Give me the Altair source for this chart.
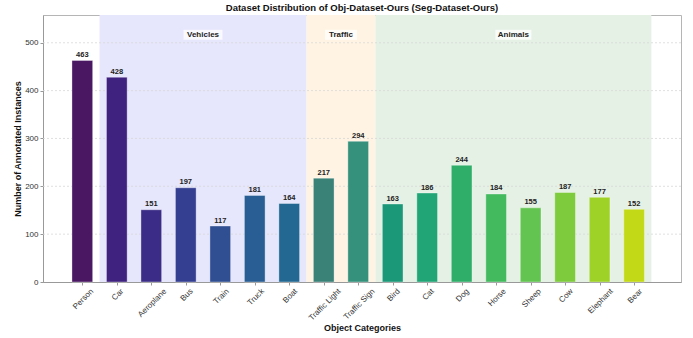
import altair as alt
import pandas as pd

categories = ["Person", "Car", "Aeroplane", "Bus", "Train", "Truck", "Boat",
              "Traffic Light", "Traffic Sign", "Bird", "Cat", "Dog", "Horse",
              "Sheep", "Cow", "Elephant", "Bear"]
counts = [463, 428, 151, 197, 117, 181, 164, 217, 294, 163, 186, 244, 184, 155, 187, 177, 152]
bar_colors = ["#4a1763", "#3f2180", "#3b2d87", "#343f91", "#2f4f92", "#295e95", "#226893",
              "#3a8178", "#36917c", "#1b9878", "#21a576", "#2fae6a", "#44ba5f", "#63c452",
              "#7ecb3d", "#9ed227", "#c2d918"]

group_names = ["Vehicles", "Traffic", "Animals"]
group_start = [0.5, 6.5, 8.5]
group_end = [6.5, 8.5, 16.5]
group_colors = ["#e6e6fc", "#fff4e3", "#e5f1e5"]
group_box = ["M-3.9,-1H3.9V1H-3.9Z", "M-3.2,-1H3.2V1H-3.2Z", "M-3.6,-1H3.6V1H-3.6Z"]

y_ticks = [0, 100, 200, 300, 400, 500]
y_max = 558
x_min, x_max = -1.14, 17.36

FONT = "Liberation Sans"
LABEL_SIZE = 8

# Arial / Liberation Sans advance widths (per 1000 em) to centre rotated labels on ticks
_W = {"P": 667, "C": 722, "A": 667, "B": 667, "T": 611, "S": 667, "H": 722, "D": 722,
      "E": 667, "L": 556, "a": 556, "b": 556, "c": 500, "d": 556, "e": 556, "f": 278,
      "g": 556, "h": 556, "i": 222, "k": 500, "l": 222, "m": 833, "n": 556, "o": 556,
      "p": 556, "r": 333, "s": 500, "t": 278, "u": 556, "w": 722, "y": 500, " ": 278}


def text_w(s):
    return sum(_W.get(ch, 556) for ch in s) / 1000 * LABEL_SIZE


label_shift = {"condition": [{"test": f"datum.value === {i}",
                              "value": round(0.354 * (text_w(c) - LABEL_SIZE * 0.75), 1)}
                             for i, c in enumerate(categories)],
               "value": 0}

bars_df = pd.DataFrame({"idx": list(range(len(categories))), "cat": categories,
                        "count": counts, "color": bar_colors})
bars_df["x0"] = bars_df["idx"] - 0.3
bars_df["x1"] = bars_df["idx"] + 0.3
groups_df = pd.DataFrame({"name": group_names, "start": group_start, "end": group_end,
                          "color": group_colors, "box": group_box})
groups_df["mid"] = (groups_df["start"] + groups_df["end"]) / 2
groups_df["ly"] = y_max * 0.926
grid_df = pd.DataFrame({"v": y_ticks[1:]})

label_expr = "[" + ",".join("'" + c + "'" for c in categories) + "][datum.value]"

xscale = alt.Scale(domain=[x_min, x_max], nice=False, zero=False)
yscale = alt.Scale(domain=[0, y_max], nice=False)

x_axis = alt.Axis(values=list(range(len(categories))), labelExpr=label_expr,
                  labelAngle=-45, labelAlign="right", labelBaseline="top",
                  labelOffset=label_shift, labelPadding=2, tickSize=3, grid=False,
                  labelOverlap=False, labelBound=False, labelFlush=False,
                  title="Object Categories", titleFontWeight="bold",
                  titleFontSize=9, titlePadding=2)
y_axis = alt.Axis(values=y_ticks, grid=False, tickSize=3, labelPadding=2,
                  title="Number of Annotated Instances", titleFontWeight="bold",
                  titleFontSize=9, titlePadding=2)

spans = alt.Chart(groups_df).mark_rect().encode(
    x=alt.X("start:Q", scale=xscale, axis=x_axis),
    x2="end:Q",
    color=alt.Color("color:N", scale=None),
)

grid = alt.Chart(grid_df).mark_rule(color="#d8d8d8", strokeDash=[2, 2], strokeWidth=0.8).encode(
    y=alt.Y("v:Q", scale=yscale, axis=y_axis)
)

bars = alt.Chart(bars_df).mark_rect(stroke="white", strokeOpacity=0.5, strokeWidth=0.7).encode(
    x=alt.X("x0:Q", scale=xscale, axis=x_axis),
    x2="x1:Q",
    y=alt.Y("count:Q", scale=yscale, axis=y_axis),
    y2=alt.datum(0),
    color=alt.Color("color:N", scale=None),
)

values = alt.Chart(bars_df).mark_text(fontWeight="bold", fontSize=7.5, baseline="alphabetic",
                                      dy=-3.5, color="#222", font=FONT).encode(
    x=alt.X("idx:Q", scale=xscale, axis=x_axis),
    y=alt.Y("count:Q", scale=yscale, axis=y_axis),
    text="count:Q",
)

boxes = alt.Chart(groups_df).mark_point(filled=True, fill="white", opacity=0.75, size=100,
                                        strokeWidth=0).encode(
    x=alt.X("mid:Q", scale=xscale, axis=x_axis),
    y=alt.Y("ly:Q", scale=yscale, axis=y_axis),
    shape=alt.Shape("box:N", scale=None),
)

glabels = alt.Chart(groups_df).mark_text(fontWeight="bold", fontSize=8, baseline="middle",
                                         color="#222", font=FONT).encode(
    x=alt.X("mid:Q", scale=xscale, axis=x_axis),
    y=alt.Y("ly:Q", scale=yscale, axis=y_axis),
    text="name:N",
)

chart = alt.layer(spans, grid, bars, values, boxes, glabels).properties(
    width=638, height=267,
    autosize=alt.AutoSizeParams(type="none"),
    padding={"left": 43, "top": 15, "right": 12, "bottom": 56},
    title=alt.TitleParams("Dataset Distribution of Obj-Dataset-Ours (Seg-Dataset-Ours)",
                          fontSize=9.5, fontWeight="bold", font=FONT, offset=3,
                          anchor="middle", color="#111"),
    background="white",
).configure_view(stroke="#b5b5b5", strokeWidth=1).configure_axis(
    labelFont=FONT, titleFont=FONT, labelFontSize=LABEL_SIZE, labelColor="#333",
    titleColor="#111", domainColor="#999", tickColor="#999",
).configure_axisX(labelOverlap=False)

chart.save("out.html", embed_options={"renderer": "svg", "actions": False})
